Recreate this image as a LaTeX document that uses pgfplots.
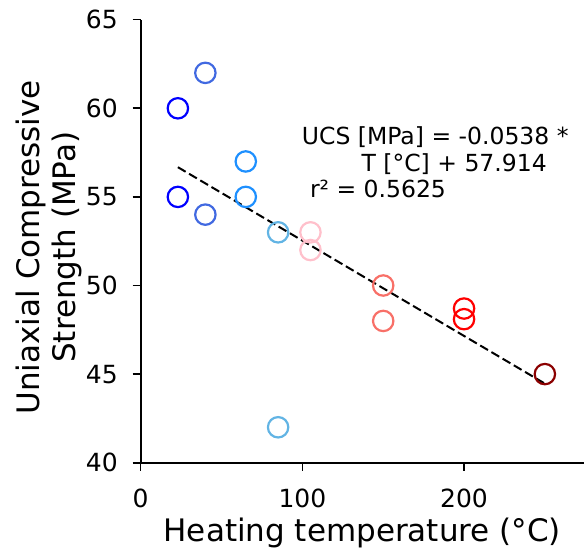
\documentclass[border=0pt]{standalone}
\usepackage{fontspec}
\setmainfont{DejaVu Sans}
\usepackage{pgfplots}
\pgfplotsset{compat=1.18}
\definecolor{cA}{RGB}{0,0,255}
\definecolor{cB}{RGB}{65,105,225}
\definecolor{cC}{RGB}{30,144,255}
\definecolor{cD}{RGB}{98,180,228}
\definecolor{cE}{RGB}{255,192,203}
\definecolor{cF}{RGB}{248,112,104}
\definecolor{cG}{RGB}{255,0,0}
\definecolor{cH}{RGB}{139,0,0}
\begin{document}
\begin{tikzpicture}
\begin{axis}[
  name=ax,
  scale only axis, width=443.3bp, height=443bp,
  xmin=0, xmax=274.2, ymin=40, ymax=65,
  axis lines=left, axis line style={-, line width=1.8bp, black},
  xtick={0,100,200}, ytick={40,45,50,55,60,65},
  tick align=outside, major tick length=8bp,
  tick style={line width=1.6bp, black},
  ticklabel style={font=\fontsize{25bp}{30bp}\selectfont},
  /pgf/number format/assume math mode=true,
  xticklabel style={yshift=-15bp},
  yticklabel style={xshift=-11.5bp},
  xlabel={Heating temperature (°C)},
  ylabel={Uniaxial Compressive\\Strength (MPa)},
  xlabel style={font=\fontsize{31bp}{36bp}\selectfont, at={(rel axis cs:0.5,0)}, anchor=base, yshift=-79bp},
  ylabel style={font=\fontsize{31bp}{36bp}\selectfont, align=center, at={([xshift=-55bp,yshift=-6bp]rel axis cs:0,0.5)}, anchor=south},
  clip=false,
]
\addplot[only marks, mark=o, mark size=10.2bp, cA, line width=2.2bp] coordinates {(23,60) (23,55)};
\addplot[only marks, mark=o, mark size=10.2bp, cB, line width=2.2bp] coordinates {(40,62) (40,54)};
\addplot[only marks, mark=o, mark size=10.2bp, cC, line width=2.2bp] coordinates {(65,57) (65,55)};
\addplot[only marks, mark=o, mark size=10.2bp, cD, line width=2.2bp] coordinates {(85,53) (85,42)};
\addplot[only marks, mark=o, mark size=10.2bp, cE, line width=2.2bp] coordinates {(105,53) (105,52)};
\addplot[only marks, mark=o, mark size=10.2bp, cF, line width=2.2bp] coordinates {(150,50) (150,48)};
\addplot[only marks, mark=o, mark size=10.2bp, cG, line width=2.2bp] coordinates {(200,48.7) (200,48.1)};
\addplot[only marks, mark=o, mark size=10.2bp, cH, line width=2.2bp] coordinates {(250,45)};
\addplot[black, line width=2bp, dash pattern=on 9bp off 4bp, no marks] coordinates {(23,56.677) (250,44.464)};
\node[anchor=base west, inner sep=0pt, font=\fontsize{23.5bp}{28bp}\selectfont] at (axis cs:99.6,57.93) {UCS [MPa] = -0.0538 *};
\node[anchor=base west, inner sep=0pt, font=\fontsize{23.5bp}{28bp}\selectfont] at (axis cs:136.5,56.42) {T [°C] + 57.914};
\node[anchor=base west, inner sep=0pt, font=\fontsize{23.5bp}{28bp}\selectfont] at (axis cs:104.6,54.94) {r² = 0.5625};
\end{axis}
\pgfresetboundingbox
\path[use as bounding box] ([shift={(-140.7bp,-92.3bp)}]ax.south west) rectangle ([shift={(0bp,19.7bp)}]ax.north east);
\end{tikzpicture}
\end{document}
